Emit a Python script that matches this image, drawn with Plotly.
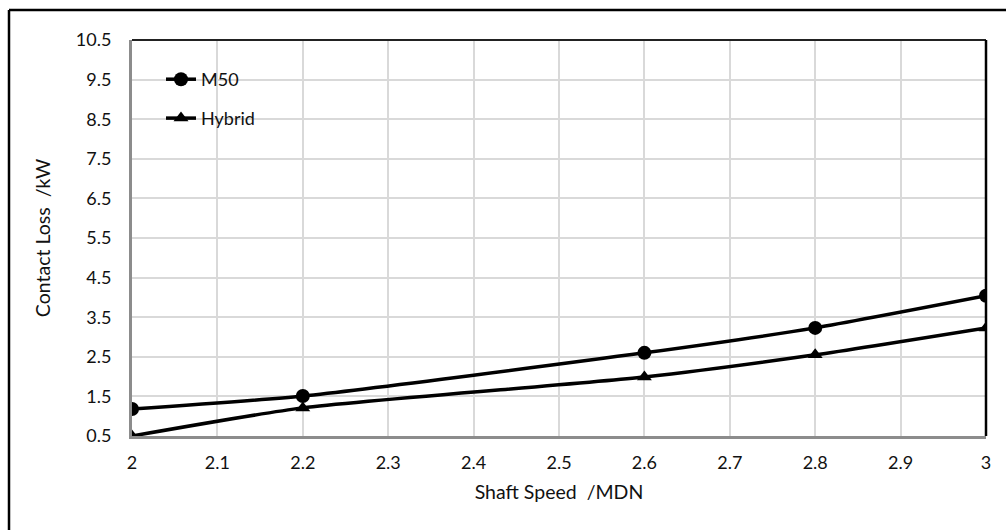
import plotly.graph_objects as go

# Contact loss versus shaft speed for two bearing materials
shaft_speed = [2.0, 2.2, 2.6, 2.8, 3.0]
m50_loss = [1.18, 1.51, 2.60, 3.23, 4.04]
hybrid_loss = [0.50, 1.21, 1.99, 2.55, 3.23]

y_ticks = [0.5, 1.5, 2.5, 3.5, 4.5, 5.5, 6.5, 7.5, 8.5, 9.5, 10.5]
x_ticks = [2.0, 2.1, 2.2, 2.3, 2.4, 2.5, 2.6, 2.7, 2.8, 2.9, 3.0]
x_tick_text = ["2", "2.1", "2.2", "2.3", "2.4", "2.5", "2.6", "2.7", "2.8", "2.9", "3"]

FONT = "Lato, 'Open Sans', sans-serif"
TEXT = "#111"

fig = go.Figure()
fig.add_trace(go.Scatter(
    x=shaft_speed, y=m50_loss, name="M50", mode="lines+markers",
    line=dict(color="black", width=3.5, shape="spline", smoothing=0.6),
    marker=dict(symbol="circle", size=14, color="black"),
    legendgroup="a",
))
fig.add_trace(go.Scatter(
    x=shaft_speed, y=hybrid_loss, name="Hybrid", mode="lines+markers",
    line=dict(color="black", width=3.5, shape="spline", smoothing=0.6),
    marker=dict(symbol="triangle-up", size=13, color="black"),
    legendgroup="b",
))

# plot area: x 132..986 px, y 40..436 px
L, R, T, B = 132, 986, 40, 436
W, H = 1006, 530
pw, ph = R - L, B - T

def px(x):
    return (x - L) / pw

def py(y):
    return (B - y) / ph

shapes = [
    # outer frame (top and left edges)
    dict(type="line", xref="paper", yref="paper", x0=px(9), x1=px(W + 5), y0=py(10), y1=py(10),
         line=dict(color="black", width=2.5)),
    dict(type="line", xref="paper", yref="paper", x0=px(9), x1=px(9), y0=py(10), y1=py(H + 5),
         line=dict(color="black", width=2.5)),
    # plot area top and right edges
    dict(type="line", xref="paper", yref="paper", x0=0, x1=1, y0=1, y1=1,
         line=dict(color="#222", width=2)),
    dict(type="line", xref="paper", yref="paper", x0=1, x1=1, y0=0, y1=1,
         line=dict(color="black", width=2.5)),
]

fig.update_layout(
    width=W, height=H,
    margin=dict(l=L, r=W - R, t=T, b=H - B),
    paper_bgcolor="white", plot_bgcolor="white",
    font=dict(family=FONT, size=18, color=TEXT),
    showlegend=True,
    legend=dict(
        x=px(161), y=py(61), xanchor="left", yanchor="top",
        bgcolor="rgba(0,0,0,0)", font=dict(size=18, color=TEXT),
        tracegroupgap=12.5, itemwidth=30,
    ),
    shapes=shapes,
    xaxis=dict(
        range=[2, 3], tickvals=x_ticks, ticktext=x_tick_text,
        showgrid=True, gridcolor="#d9d9d9", gridwidth=1.5,
        showline=True, linecolor="#8c8c8c", linewidth=3,
        ticks="", ticklabelstandoff=8, zeroline=False,
        tickfont=dict(size=18, color=TEXT),
        title=dict(text="Shaft Speed \u00a0/MDN", font=dict(size=19.5, color=TEXT), standoff=14),
    ),
    yaxis=dict(
        range=[0.5, 10.5], tickvals=y_ticks,
        showgrid=True, gridcolor="#d9d9d9", gridwidth=1.5,
        showline=True, linecolor="#8c8c8c", linewidth=3,
        ticks="", ticklabelstandoff=14, zeroline=False,
        tickfont=dict(size=18, color=TEXT),
        title=dict(text="Contact Loss \u00a0/kW", font=dict(size=19.5, color=TEXT), standoff=20),
    ),
)

fig.write_html("out.html")
